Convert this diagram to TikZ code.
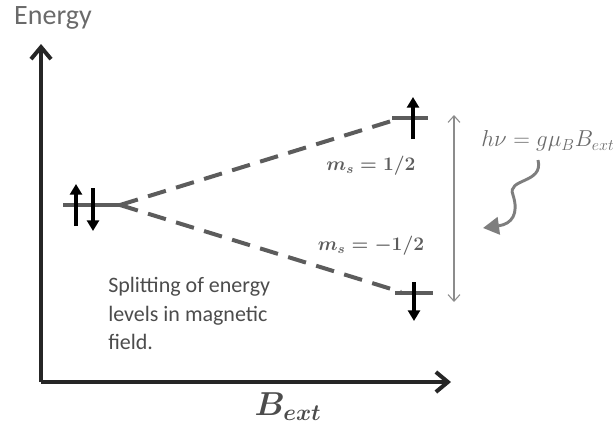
\documentclass[tikz,border=0pt]{standalone}
\usepackage{amsmath}
\usepackage{fontspec}
\setmainfont{Carlito}
\usetikzlibrary{arrows.meta}
\definecolor{txtgray}{HTML}{6A6A6A}
\definecolor{dashgray}{HTML}{5C5C5C}
\definecolor{thingray}{HTML}{8C8C8C}
\begin{document}
\begin{tikzpicture}[x=0.75pt, y=-0.75pt,
  axis/.style={line width=3pt, color=black!85, -{Straight Barb[length=9pt, width=15pt]}},
  level/.style={line width=2.4pt, color=dashgray},
  spin/.style={line width=3pt, -{Triangle[length=8pt, width=9pt]}},
  split/.style={line width=3pt, color=dashgray, dash pattern=on 14pt off 8pt},
  lab/.style={font=\fontsize{14}{16}\selectfont, text=dashgray}]
  \useasboundingbox (0,0) rectangle (613,432);
  \coordinate (orig) at (41,382);
  \coordinate (ytop) at (41,44);
  \coordinate (xend) at (451,382);
  \draw[axis] (orig) -- (ytop);
  \draw[axis] (orig) -- (xend);
  \node[font=\fontsize{21}{24}\selectfont, text=txtgray] (energy) at (53,18) {Energy};
  \node[font=\fontsize{23}{26}\selectfont, text=black!70] (bext) at (288,407) {$\boldsymbol{B_{ext}}$};
  % levels
  \coordinate (l0a) at (63,205);
  \coordinate (split0) at (120,205);
  \coordinate (hi) at (398,119);
  \coordinate (hia) at (392,118);
  \coordinate (hib) at (428,118);
  \coordinate (lo) at (401,292);
  \coordinate (loa) at (395,293);
  \coordinate (lob) at (433,293);
  \draw[level] (l0a) -- (split0);
  \draw[level] (hia) -- (hib);
  \draw[level] (loa) -- (lob);
  \draw[split] (split0) -- (hi);
  \draw[split] (split0) -- (lo);
  \draw[spin] (76,226) -- (76,184);
  \draw[spin] (93,188) -- (93,231);
  \draw[spin] (413,139) -- (413,97);
  \draw[spin] (414,282) -- (414,321);
  \node[lab] (msup) at (371,166) {$\boldsymbol{m_s=1/2}$};
  \node[lab] (msdn) at (371,246) {$\boldsymbol{m_s=-1/2}$};
  % gap
  \coordinate (gtop) at (454,115);
  \coordinate (gbot) at (454,302);
  \draw[thingray, line width=0.8pt, {Straight Barb[length=5pt, width=9pt]}-{Straight Barb[length=5pt, width=9pt]}] (gtop) -- (gbot);
  \node[anchor=west, font=\fontsize{17}{19}\selectfont, text=txtgray, inner sep=0pt] (res) at (481,141) {$h\nu = g\mu_B B_{ext}$};
  \coordinate (wv0) at (538,160);
  \coordinate (wv1) at (513,195);
  \coordinate (wv2) at (483,228);
  \draw[line width=2.2pt, color=thingray!90!black, -{Triangle[length=12pt, width=13pt]}]
    (wv0) .. controls (544,184) and (506,178) .. (wv1) .. controls (519,214) and (512,224) .. (wv2);
  \node[anchor=north west, align=left, font=\fontsize{16.5}{21.5}\selectfont, text=black!70, inner sep=0pt] (note) at (108,277)
    {Splitting of energy\\levels in magnetic\\field.};
\end{tikzpicture}
\end{document}
